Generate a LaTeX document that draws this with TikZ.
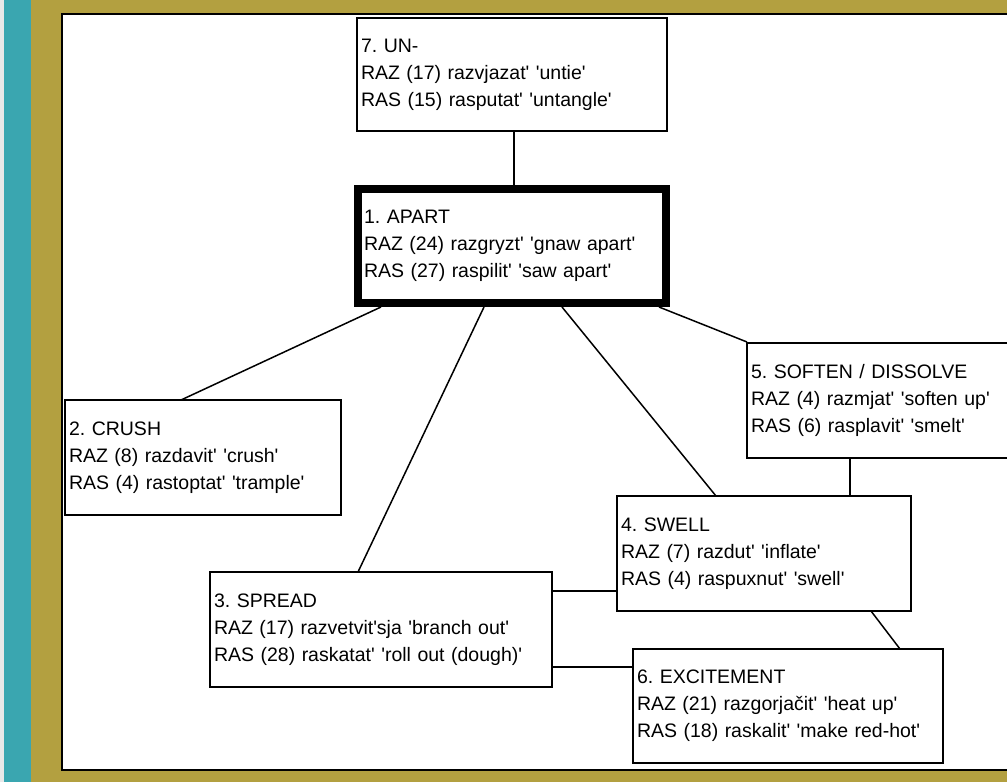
\documentclass[tikz,border=0pt]{standalone}
\usepackage{fontspec}
\newfontfamily\boxfont{Liberation Sans}
\usetikzlibrary{calc,positioning}
\definecolor{teal}{RGB}{58,166,176}
\definecolor{olive}{RGB}{179,160,64}
\definecolor{paper}{RGB}{232,232,232}
\frenchspacing

\begin{document}
\begin{tikzpicture}[x=1pt,y=-1pt,
  sense/.style={draw=black,line width=1.5pt,anchor=north west,align=left,outer sep=0pt,
    inner xsep=4pt,inner ysep=0pt,font=\boxfont\fontsize{19.5}{27}\selectfont},
  core/.style={sense,line width=8pt,inner xsep=6pt},
  link/.style={draw=black,line width=1.5pt}]
\useasboundingbox (0,0) rectangle (1007,782);
% frame
\fill[paper] (0,0) rectangle (4,782);
\fill[teal] (4,0) rectangle (31,782);
\fill[olive] (31,0) rectangle (1007,782);
\fill[white] (62,14) rectangle (1010,770);
\draw[black,line width=2pt] (1010,14) -- (62,14) -- (62,770) -- (1010,770);

% senses
\node[sense,minimum width=310,minimum height=113,text width=302] (un) at (357,18)
  {7. UN-\\RAZ (17) razvjazat' 'untie'\\RAS (15) rasputat' 'untangle'};
\node[core,minimum width=308,minimum height=114,text width=296] (apart) at (358,189)
  {1. APART\\RAZ (24) razgryzt' 'gnaw apart'\\RAS (27) raspilit' 'saw apart'};
\node[sense,minimum width=276,minimum height=115,text width=268] (crush) at (65,400)
  {2. CRUSH\\RAZ (8) razdavit' 'crush'\\RAS (4) rastoptat' 'trample'};
\node[sense,minimum width=342,minimum height=115,text width=334] (spread) at (210,572)
  {3. SPREAD\\RAZ (17) razvetvit'sja 'branch out'\\RAS (28) raskatat' 'roll out (dough)'};
\node[sense,minimum width=294,minimum height=115,text width=286] (swell) at (617,496)
  {4. SWELL\\RAZ (7) razdut' 'inflate'\\RAS (4) raspuxnut' 'swell'};
\node[sense,minimum width=300,minimum height=115,text width=292] (soften) at (747,343)
  {5. SOFTEN / DISSOLVE\\RAZ (4) razmjat' 'soften up'\\RAS (6) rasplavit' 'smelt'};
\node[sense,minimum width=310,minimum height=114,text width=302] (excite) at (633,649)
  {6. EXCITEMENT\\RAZ (21) razgorjačit' 'heat up'\\RAS (18) raskalit' 'make red-hot'};

% links
\draw[link] ($(un.south west)+(157,0)$) -- ($(apart.north west)+(156,-4)$);
\draw[link] ($(apart.south west)+(23,4)$) -- ($(crush.north west)+(116,0)$);
\draw[link] ($(apart.south west)+(126,4)$) -- ($(spread.north west)+(148,0)$);
\draw[link] ($(apart.south west)+(204,4)$) -- ($(swell.north west)+(99,0)$);
\draw[link] ($(apart.south east)+(-7,4)$) -- ($(soften.north west)+(0,-1)$);
\draw[link] ($(soften.south west)+(103,0)$) -- ($(swell.north west)+(233,0)$);
\draw[link] ($(spread.north east)+(0,19)$) -- ($(swell.north west)+(0,95)$);
\draw[link] ($(spread.north east)+(0,95)$) -- ($(excite.north west)+(0,18)$);
\draw[link] ($(swell.south west)+(254,0)$) -- ($(excite.north west)+(267,0)$);
\end{tikzpicture}
\end{document}
